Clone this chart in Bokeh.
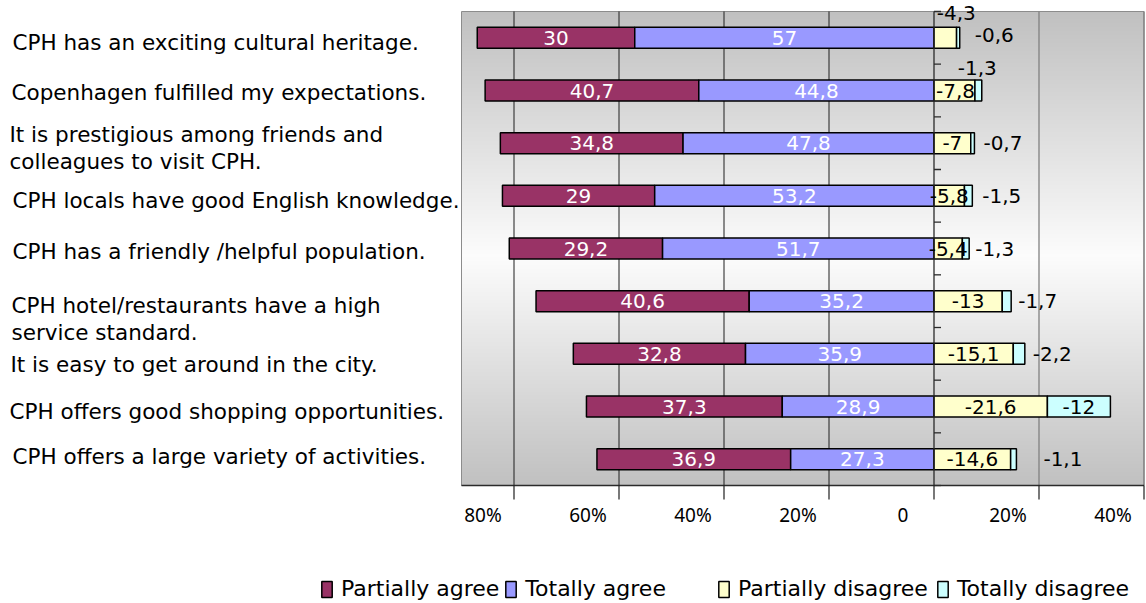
import numpy as np
from bokeh.plotting import figure
from bokeh.models import ColumnDataSource, Range1d, Legend, LegendItem
from bokeh.core.properties import value
from bokeh.embed import file_html
from bokeh.resources import INLINE

# ---------------- data ----------------
categories = [
    "CPH has an exciting cultural heritage.",
    "Copenhagen fulfilled my expectations.",
    "It is prestigious among friends and\ncolleagues to visit CPH.",
    "CPH locals have good English knowledge.",
    "CPH has a friendly /helpful population.",
    "CPH hotel/restaurants have a high\n service standard.",
    "It is easy to get around in the city.",
    "CPH offers good shopping opportunities.",
    "CPH offers a large variety of activities.",
]
partially_agree = [30, 40.7, 34.8, 29, 29.2, 40.6, 32.8, 37.3, 36.9]
totally_agree = [57, 44.8, 47.8, 53.2, 51.7, 35.2, 35.9, 28.9, 27.3]
partially_disagree = [4.3, 7.8, 7, 5.8, 5.4, 13, 15.1, 21.6, 14.6]
totally_disagree = [0.6, 1.3, 0.7, 1.5, 1.3, 1.7, 2.2, 12, 1.1]
series_names = ["Partially agree", "Totally agree", "Partially disagree", "Totally disagree"]
x_ticks = [-80, -60, -40, -20, 0, 20, 40]
x_tick_labels = ["80%", "60%", "40%", "20%", "0", "20%", "40%"]

# ---------------- styles / layout ----------------
colors = ["#993366", "#9999FF", "#FFFFCC", "#CCFFFF"]
W, H = 1146, 603
PX = 5.25            # px per percent
ZERO_PX = 933.5      # canvas x of the zero line
PY = 52.667          # px per category band
TOP_PX = 11          # canvas y of plot-area top
X_MIN, X_MAX = -90, 40
n = len(categories)

# per-row label nudges (pixels)
cat_dx = [12, 11, 9, 12, 12, 11, 10, 9, 12]
cat_dy = [5, 2, 5, 5, 3, 18, 11, 5, -3]
pd_dx = [11, 1, 0, 0, 0, 0, 0, 0, 0]
pd_dy = [-25, 0, 0, 0, 0, 0, 0, 0, 0]
td_dx = [15, -24, 9, 10, 6, 7, 8, 0, 27]
td_dy = [-3, -23, 0, 0, 0, 0, 0, 0, 0]

FONT = "DejaVu Sans"

def fmt(v):
    s = ("%g" % v)
    return s.replace(".", ",")

x_start = -ZERO_PX / PX
x_end = (W - ZERO_PX) / PX
y_end = n + TOP_PX / PY
y_start = -(H - TOP_PX - n * PY) / PY

p = figure(width=W, height=H, output_backend="svg", toolbar_location=None,
           x_range=Range1d(x_start, x_end), y_range=Range1d(y_start, y_end),
           x_axis_location=None, y_axis_location=None, min_border=0,
           background_fill_color="white", border_fill_color="white",
           outline_line_color=None)
p.grid.visible = False

# ---------------- gradient plot area ----------------
N = int(round(n * PY))
img = np.empty((N, 1), dtype=np.uint32)
view = img.view(dtype=np.uint8).reshape((N, 1, 4))
center = 244.0
for r in range(N):
    t = N - 1 - r  # distance from top in px
    if t <= center:
        f = t / center
    else:
        f = (N - t) / (N - center)
    g = int(round(192 + (252 - 192) * f))
    view[r, 0, 0] = g
    view[r, 0, 1] = g
    view[r, 0, 2] = g
    view[r, 0, 3] = 255
p.image_rgba(image=[img], x=X_MIN, y=0, dw=X_MAX - X_MIN, dh=n)
p.quad(left=X_MIN, right=X_MAX, bottom=0, top=n, fill_color=None,
       line_color="#8c8c8c", line_width=1)

# grid lines
neg_ticks = [t for t in x_ticks if t < 0]
pos_ticks = [t for t in x_ticks if t > 0]
p.segment(x0=neg_ticks, y0=[0] * len(neg_ticks), x1=neg_ticks, y1=[n] * len(neg_ticks),
          line_color="#1f1f1f", line_width=1)
p.segment(x0=pos_ticks, y0=[0] * len(pos_ticks), x1=pos_ticks, y1=[n] * len(pos_ticks),
          line_color="#808080", line_width=1.3)

# ---------------- bars ----------------
ys = [n - 0.5 - i for i in range(n)]
pa_left = [-(a + b) for a, b in zip(partially_agree, totally_agree)]
ta_left = [-b for b in totally_agree]
pd_right = list(partially_disagree)
td_right = [a + b for a, b in zip(partially_disagree, totally_disagree)]

src = ColumnDataSource(dict(
    y=ys, pa_l=pa_left, pa_r=ta_left, ta_l=ta_left, ta_r=[0] * n,
    pd_l=[0] * n, pd_r=pd_right, td_l=pd_right, td_r=td_right,
))
BAR_H = 0.4
r_pa = p.hbar(y="y", left="pa_l", right="pa_r", height=BAR_H, source=src,
              fill_color=colors[0], line_color="black", line_width=1.5)
r_ta = p.hbar(y="y", left="ta_l", right="ta_r", height=BAR_H, source=src,
              fill_color=colors[1], line_color="black", line_width=1.5)
r_pd = p.hbar(y="y", left="pd_l", right="pd_r", height=BAR_H, source=src,
              fill_color=colors[2], line_color="black", line_width=1.5)
r_td = p.hbar(y="y", left="td_l", right="td_r", height=BAR_H, source=src,
              fill_color=colors[3], line_color="black", line_width=1.5)

# axes drawn at the plot area: zero line with category ticks, bottom line with ticks
p.segment(x0=[X_MIN], y0=[0], x1=[X_MAX], y1=[0], line_color="#2a2a2a", line_width=1.6)
p.segment(x0=[0], y0=[0], x1=[0], y1=[n], line_color="#2a2a2a", line_width=1.3)
p.ray(x=[0] * (n + 1), y=list(range(n + 1)), length=7, angle=0,
      length_units="screen", line_color="#2a2a2a", line_width=1.3)
p.ray(x=x_ticks, y=[0] * len(x_ticks), length=14, angle=-np.pi / 2,
      length_units="screen", line_color="#1f1f1f", line_width=1.2)

# tick labels
p.text(x=x_ticks, y=[0] * len(x_ticks), text=x_tick_labels, x_offset=-31, y_offset=29,
       text_align="center", text_baseline="middle", text_font=value("Noto Sans"),
       text_font_size="19px", text_color="black")

# ---------------- value labels ----------------
lab = ColumnDataSource(dict(
    y=ys,
    pa_x=[(a + b) / 2 for a, b in zip(pa_left, ta_left)],
    pa_t=[fmt(v) for v in partially_agree],
    ta_x=[b / 2 for b in ta_left],
    ta_t=[fmt(v) for v in totally_agree],
    pd_x=[v / 2 for v in partially_disagree],
    pd_t=["-" + fmt(v) for v in partially_disagree],
    pd_dx=pd_dx, pd_dy=pd_dy,
))
common = dict(text_baseline="middle", text_font=value(FONT), text_font_size="20px")
p.text(x="pa_x", y="y", text="pa_t", source=lab, text_align="center",
       text_color="white", **common)
p.text(x="ta_x", y="y", text="ta_t", source=lab, text_align="center",
       text_color="white", **common)
p.text(x="pd_x", y="y", text="pd_t", source=lab, text_align="center",
       x_offset="pd_dx", y_offset="pd_dy", text_color="black", **common)

inside = [i for i in range(n) if totally_disagree[i] >= 5]
outside = [i for i in range(n) if totally_disagree[i] < 5]
td_in = ColumnDataSource(dict(
    x=[partially_disagree[i] + totally_disagree[i] / 2 for i in inside],
    y=[ys[i] for i in inside],
    t=["-" + fmt(totally_disagree[i]) for i in inside],
))
td_out = ColumnDataSource(dict(
    x=[td_right[i] for i in outside],
    y=[ys[i] for i in outside],
    t=["-" + fmt(totally_disagree[i]) for i in outside],
    dx=[td_dx[i] for i in outside], dy=[td_dy[i] for i in outside],
))
p.text(x="x", y="y", text="t", source=td_in, text_align="center",
       text_color="black", **common)
p.text(x="x", y="y", text="t", source=td_out, text_align="left",
       x_offset="dx", y_offset="dy", text_color="black", **common)

# ---------------- category labels ----------------
cat_src = ColumnDataSource(dict(x=[x_start] * n, y=ys, t=categories, dx=cat_dx, dy=cat_dy))
p.text(x="x", y="y", text="t", source=cat_src, x_offset="dx", y_offset="dy",
       text_align="left", text_baseline="middle", text_font=value(FONT),
       text_font_size="21.5px", text_line_height=1.08, text_color="black")

# ---------------- legends ----------------
legend_style = dict(orientation="horizontal", border_line_color=None,
                    background_fill_alpha=0, padding=0, margin=0,
                    glyph_width=13, glyph_height=20, label_standoff=8,
                    label_text_font=FONT, label_text_font_size="22px",
                    label_text_color="black", label_height=20)
leg_a = Legend(items=[LegendItem(label=series_names[0], renderers=[r_pa]),
                      LegendItem(label=series_names[1], renderers=[r_ta])],
               location=(320, 2), spacing=5, **legend_style)
leg_b = Legend(items=[LegendItem(label=series_names[2], renderers=[r_pd]),
                      LegendItem(label=series_names[3], renderers=[r_td])],
               location=(717, 2), spacing=8, **legend_style)
p.add_layout(leg_a)
p.add_layout(leg_b)

open("out.html", "w").write(file_html(p, INLINE))
